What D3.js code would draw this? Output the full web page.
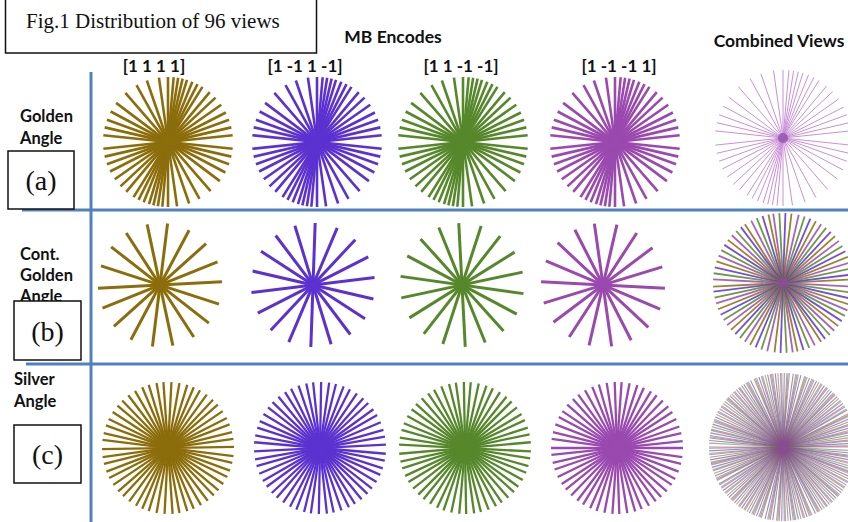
<!DOCTYPE html>
<html>
<head>
<script src="https://d3js.org/d3.v7.min.js"></script>
<style>
  body { margin: 0; background: #fff; }
  svg { display: block; }
  .lbl { font-family: Lato, "Open Sans", sans-serif; font-weight: 700; fill: #111; }
  .serif { font-family: "Liberation Serif", "DejaVu Serif", serif; fill: #111; }
</style>
</head>
<body>
<div id="fig"></div>
<script>
// column headers (MB encodes) and row labels
var encodes = ["[1 1 1 1]", "[1 -1 1 -1]", "[1 1 -1 -1]", "[1 -1 -1 1]"];
var encodeColors = ["#8c6d0b", "#5b32cf", "#56882b", "#9a49ae"];
var rowNames = [["Golden", "Angle"], ["Cont.", "Golden", "Angle"], ["Silver", "Angle"]];
var rowTags = ["(a)", "(b)", "(c)"];

// view angles (degrees, 0-180)
var goldenA = [
  [6, 13, 20, 27, 35, 43, 50, 58, 63, 68, 73, 77, 81, 85, 90, 98, 109, 119, 131, 143, 152, 160, 167, 174],
  [6, 13, 20, 27, 35, 43, 50, 58, 63, 68, 73, 77, 81, 85, 90, 98, 109, 119, 131, 143, 152, 160, 167, 174],
  [6, 13, 20, 27, 35, 43, 50, 58, 63, 68, 73, 77, 81, 85, 90, 98, 109, 119, 131, 143, 152, 160, 167, 174],
  [6, 13, 20, 27, 35, 43, 50, 58, 63, 68, 73, 77, 81, 85, 90, 98, 109, 119, 131, 143, 152, 160, 167, 174]
];
var contGoldenA = [
  [3, 22, 42, 62, 83, 102, 123, 142, 162],
  [7, 27, 47, 67, 88, 107, 127, 147, 167],
  [12, 32, 52, 72, 93, 112, 132, 152, 172],
  [17, 37, 57, 77, 98, 117, 137, 157, 177]
];
var silverA = [
  [1, 8, 14, 21, 27, 34, 41, 47, 54, 61, 67, 73, 80, 87, 94, 100, 107, 113, 120, 127, 134, 140, 147, 154, 160, 167, 173],
  [3, 10, 16, 23, 30, 36, 43, 49, 56, 63, 69, 76, 82, 89, 96, 102, 109, 116, 122, 129, 136, 142, 149, 156, 162, 169, 175],
  [5, 12, 18, 25, 31, 38, 45, 51, 58, 65, 71, 78, 85, 91, 98, 104, 111, 118, 124, 131, 138, 144, 151, 158, 164, 171, 177],
  [0, 6, 13, 19, 26, 33, 39, 46, 53, 59, 66, 72, 79, 86, 92, 99, 106, 112, 119, 126, 132, 139, 146, 152, 159, 166, 172]
];

var W = 848, H = 522;
var svg = d3.select("#fig").append("svg").attr("width", W).attr("height", H);

var ang = d3.scaleLinear().domain([0, 360]).range([0, 2 * Math.PI]);

var combX = 783;
var rows = [
  { cx: [168, 317, 463, 615], cy: 142, r: 65, sets: goldenA, w: 2.6, hub: 7,
    ccy: 138, cr: 68, cw: 1, ccol: "#c990d8", cop: 1 },
  { cx: [160, 313, 462, 603], cy: 285, r: 62, sets: contGoldenA, w: 3, hub: 4,
    ccy: 283, cr: 70, cw: 1.8, ccol: null, cop: 0.85 },
  { cx: [168, 320, 465, 617], cy: 448, r: 66, sets: silverA, w: 2.3, hub: 9,
    ccy: 447, cr: 74, cw: 1.1, ccol: null, cop: 0.6 }
];

function star(g, cx, cy, r, angles, color, width, opacity) {
  var rad = d3.scaleLinear().domain([-1, 1]).range([-r, r]);
  g.selectAll(null).data(angles).enter().append("line")
    .attr("x1", function(d) { return cx + rad(-1) * Math.cos(ang(d)); })
    .attr("y1", function(d) { return cy - rad(-1) * Math.sin(ang(d)); })
    .attr("x2", function(d) { return cx + rad(1) * Math.cos(ang(d)); })
    .attr("y2", function(d) { return cy - rad(1) * Math.sin(ang(d)); })
    .attr("stroke", color)
    .attr("stroke-width", width)
    .attr("stroke-opacity", opacity);
}

var plot = svg.append("g");
rows.forEach(function(row, ri) {
  row.sets.forEach(function(angles, ci) {
    var g = plot.append("g");
    star(g, row.cx[ci], row.cy, row.r, angles, encodeColors[ci], row.w, 1);
    g.append("circle").attr("cx", row.cx[ci]).attr("cy", row.cy).attr("r", row.hub)
      .attr("fill", encodeColors[ci]);
  });
  // combined views: all encodes overlaid
  var cg = plot.append("g");
  if (row.ccol) {
    star(cg, combX, row.ccy, row.cr, row.sets[3], row.ccol, row.cw, row.cop);
  } else {
    var maxLen = d3.max(row.sets, function(s) { return s.length; });
    for (var k = 0; k < maxLen; k++) {
      row.sets.forEach(function(angles, ci) {
        if (k < angles.length) {
          star(cg, combX, row.ccy, row.cr, [angles[k]], encodeColors[ci], row.cw, row.cop);
        }
      });
    }
  }
  cg.append("circle").attr("cx", combX).attr("cy", row.ccy).attr("r", 5)
    .attr("fill", "#8a4a9e").attr("fill-opacity", 0.7);
});

// grid lines
var blue = "#4f81bd";
svg.append("line").attr("x1", 91).attr("x2", 91).attr("y1", 72).attr("y2", H)
  .attr("stroke", blue).attr("stroke-width", 3);
svg.append("line").attr("x1", 22).attr("x2", W).attr("y1", 210).attr("y2", 210)
  .attr("stroke", blue).attr("stroke-width", 3);
svg.append("line").attr("x1", 26).attr("x2", W).attr("y1", 364).attr("y2", 364)
  .attr("stroke", blue).attr("stroke-width", 3);

// title box
svg.append("rect").attr("x", 5.5).attr("y", -2).attr("width", 311).attr("height", 55)
  .attr("fill", "#fff").attr("stroke", "#111").attr("stroke-width", 1.5);
svg.append("text").attr("class", "serif").attr("x", 26).attr("y", 28)
  .attr("font-size", 21).text("Fig.1 Distribution of 96 views");

svg.append("text").attr("class", "lbl").attr("x", 393).attr("y", 43)
  .attr("text-anchor", "middle").attr("font-size", 17.5).text("MB Encodes");
svg.append("text").attr("class", "lbl").attr("x", 779).attr("y", 47)
  .attr("text-anchor", "middle").attr("font-size", 17.5).text("Combined Views");

var encX = [154, 305, 461, 619];
encodes.forEach(function(e, i) {
  svg.append("text").attr("class", "lbl").attr("x", encX[i]).attr("y", 72)
    .attr("text-anchor", "middle").attr("font-size", 17).text(e);
});

// row labels
var nameY = [[122, 144], [260, 281, 302], [385, 407]];
var nameX = [20, 20, 14];
rowNames.forEach(function(lines, ri) {
  lines.forEach(function(t, li) {
    svg.append("text").attr("class", "lbl").attr("x", nameX[ri]).attr("y", nameY[ri][li])
      .attr("font-size", 16.5).text(t);
  });
});
var boxes = [[8, 151, 66, 58], [14, 301, 67, 59], [14, 425, 67, 58]];
boxes.forEach(function(b, i) {
  svg.append("rect").attr("x", b[0]).attr("y", b[1]).attr("width", b[2]).attr("height", b[3])
    .attr("fill", "#fff").attr("stroke", "#111").attr("stroke-width", 1.5);
  svg.append("text").attr("class", "serif").attr("x", b[0] + b[2] / 2).attr("y", b[1] + b[3] / 2 + 10)
    .attr("text-anchor", "middle").attr("font-size", 28).text(rowTags[i]);
});
</script>
</body>
</html>
